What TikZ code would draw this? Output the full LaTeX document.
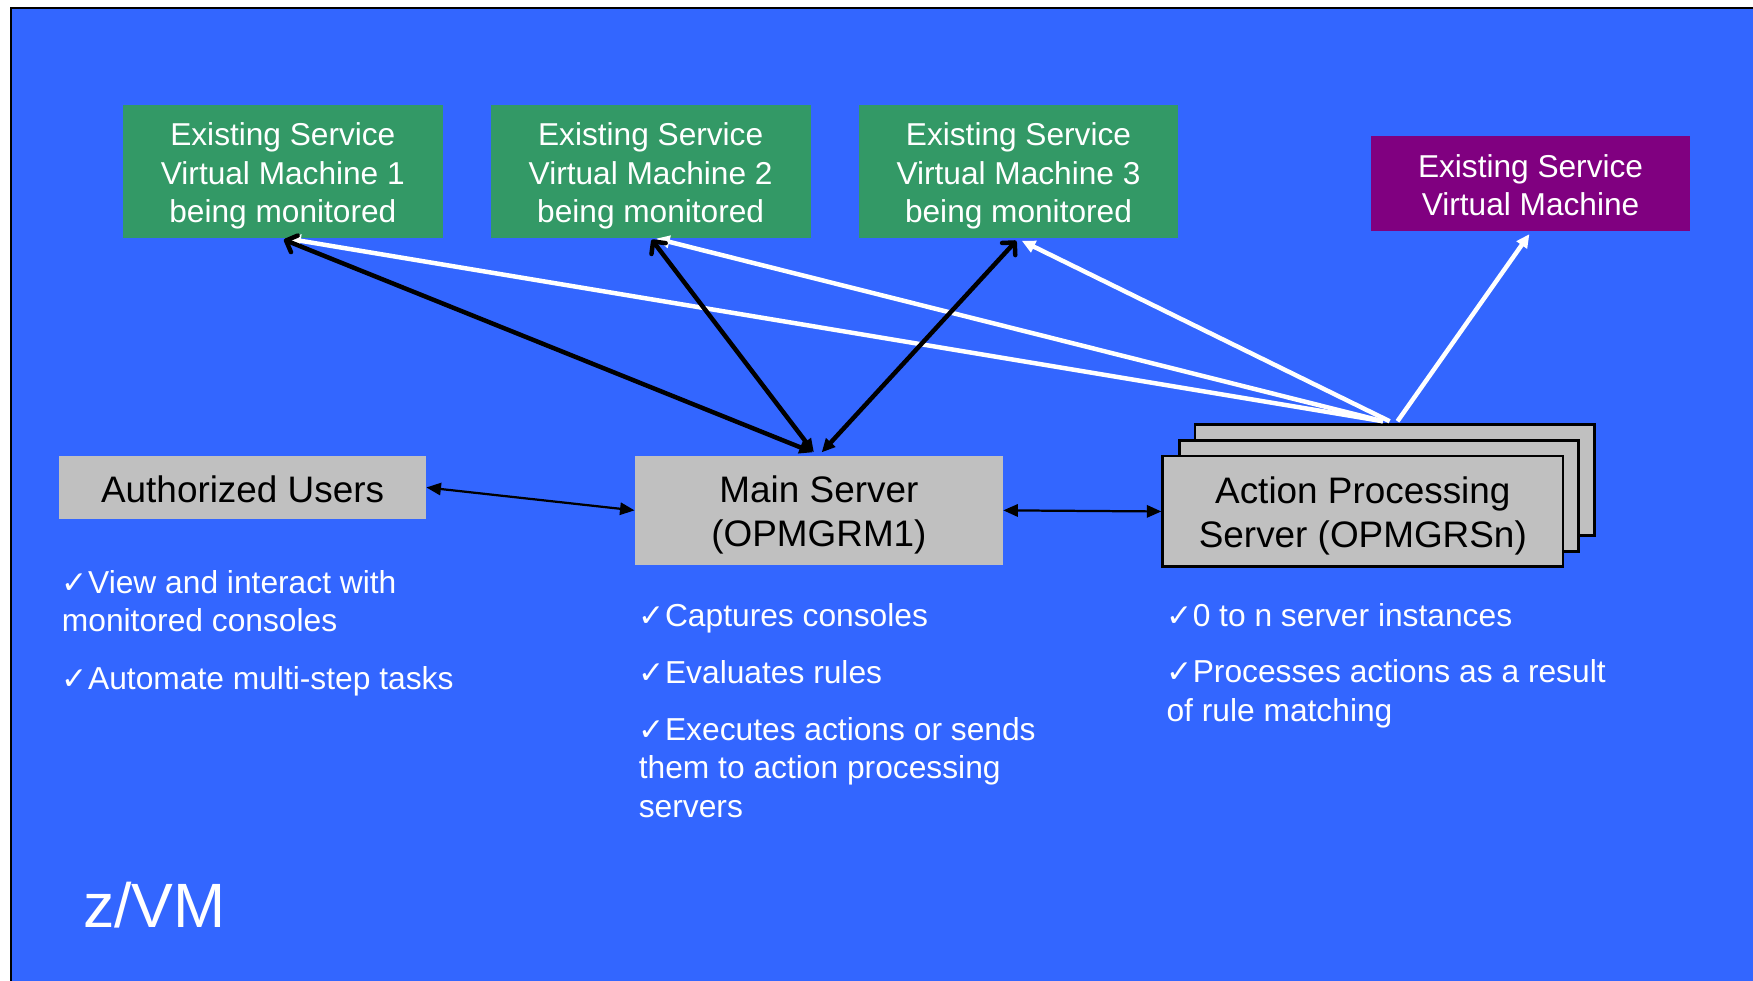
\documentclass[tikz,border=0pt]{standalone}
\usepackage{fontspec}
\setmainfont{Liberation Sans}
\newfontfamily\symf{DejaVu Sans}
\usetikzlibrary{arrows.meta,calc}
\definecolor{zblue}{HTML}{3366FF}
\definecolor{sgreen}{HTML}{339966}
\definecolor{spurple}{HTML}{800080}
\definecolor{sgray}{HTML}{C0C0C0}
\newcommand{\ck}{{\symf\fontsize{14}{14}\selectfont ✓}}
\newcommand{\st}[1]{\rule{0pt}{#1}}
\begin{document}
\begin{tikzpicture}[x=0.5pt,y=-0.5pt,
  greenbox/.style={fill=sgreen, text=white, align=center, inner sep=0pt,
    minimum width=143pt, minimum height=59.5pt, font=\fontsize{14.15}{17.25}\selectfont},
  purplebox/.style={fill=spurple, text=white, align=center, inner sep=0pt,
    minimum width=143pt, minimum height=42.5pt, font=\fontsize{14.15}{17.25}\selectfont},
  graybox/.style={fill=sgray, text=black, align=center, inner sep=0pt,
    font=\fontsize{16.5}{19.5}\selectfont},
  stackbox/.style={fill=sgray, draw=black, line width=1.2pt, text=black, align=center, inner sep=0pt,
    minimum width=178.5pt, minimum height=49.5pt, font=\fontsize{16.5}{20}\selectfont},
  bullet/.style={text=white, align=left, anchor=base west, inner sep=0pt,
    font=\fontsize{14.2}{17.25}\selectfont},
  blk/.style={draw=black, line width=2pt,
    {Straight Barb[length=4pt,width=8pt,round]}-{Triangle[length=6pt,width=5.5pt]}},
  wht/.style={draw=white, line width=2pt, -{Triangle[length=6pt,width=5.5pt]}},
  thin/.style={draw=black, line width=1pt,
    {Triangle[length=6.5pt,width=5.5pt]}-{Triangle[length=6.5pt,width=5.5pt]}}
]
\useasboundingbox (0,0) rectangle (1568,877);
\fill[white] (0,0) rectangle (1568,877);
\filldraw[fill=zblue, draw=black, line width=1pt] (10,7) rectangle (1590,900);

% top machines
\node[greenbox] (g1) at (253,153.5) {\st{14.4pt}Existing Service\\Virtual Machine 1\\being monitored};
\node[greenbox] (g2) at (582,153.5) {\st{14.4pt}Existing Service\\Virtual Machine 2\\being monitored};
\node[greenbox] (g3) at (911,153.5) {\st{14.4pt}Existing Service\\Virtual Machine 3\\being monitored};
\node[purplebox] (p) at (1369,164.5) {\st{11.4pt}Existing Service\\Virtual Machine};

% middle row
\node[graybox, minimum width=164pt, minimum height=28pt] (au) at (217,436) {\st{14pt}Authorized Users};
\node[graybox, minimum width=164.5pt, minimum height=48.5pt] (m) at (732.5,456.5) {\st{16pt}Main Server\\(OPMGRM1)};
\node[stackbox] (ab) at (1247.5,429.5) {};
\node[stackbox] (am) at (1233.5,443.5) {};
\node[stackbox, minimum width=179pt] (af) at (1219,457.5) {\st{16pt}Action Processing\\Server (OPMGRSn)};

% white arrows
\draw[wht] ([shift={(-10.5,-2)}]ab.north) -- ([shift={(4,0)}]g1.south);
\draw[wht] ([shift={(-10.5,-2)}]ab.north) -- ([shift={(5,0)}]g2.south);
\draw[wht] ([shift={(-4.5,-2)}]ab.north) -- ([shift={(3,2)}]g3.south);
\draw[wht] ([shift={(2.5,-2)}]ab.north) -- ([shift={(-1,2)}]p.south);

% black thick arrows
\draw[blk] ([shift={(1,1)}]g1.south) -- ([shift={(-5.5,-3)}]m.north);
\draw[blk] ([shift={(1,1)}]g2.south) -- ([shift={(-4.5,-3)}]m.north);
\draw[blk] ([shift={(-2,2)}]g3.south) -- ([shift={(2.5,-3)}]m.north);

% thin arrows
\draw[thin] (au.east) -- (m.west);
\draw[thin] (m.east) -- (af.west);

% bullets (anchor = baseline of last line)
\node[bullet] (l1) at (55,565) {\ck View and interact with\\monitored consoles};
\node[bullet] (l2) at (55,617) {\ck Automate multi-step tasks};
\node[bullet] (c1) at (571,560) {\ck Captures consoles};
\node[bullet] (c2) at (571,611) {\ck Evaluates rules};
\node[bullet] (c3) at (571,731) {\ck Executes actions or sends\\them to action processing\\servers};
\node[bullet] (r1) at (1043,560) {\ck 0 to n server instances};
\node[bullet] (r2) at (1043,645) {\ck Processes actions as a result\\of rule matching};

\node[text=white, font=\fontsize{28}{28}\selectfont, anchor=base west, inner sep=0pt] (zvm) at (74,830) {z/VM};
\end{tikzpicture}
\end{document}
